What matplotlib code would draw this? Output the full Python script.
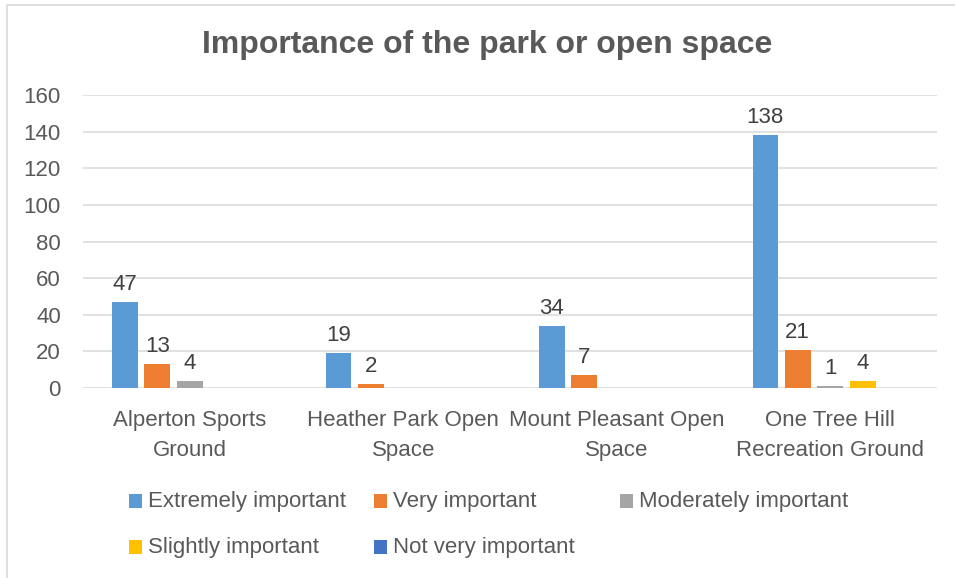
import matplotlib.pyplot as plt
from matplotlib.patches import Rectangle
import numpy as np

# Data
categories = ["Alperton Sports\nGround", "Heather Park Open\nSpace",
              "Mount Pleasant Open\nSpace", "One Tree Hill\nRecreation Ground"]
series_names = ["Extremely important", "Very important", "Moderately important",
                "Slightly important", "Not very important"]
extremely = [47, 19, 34, 138]
very = [13, 2, 7, 21]
moderately = [4, 0, 0, 1]
slightly = [0, 0, 0, 4]
not_very = [0, 0, 0, 0]
yticks = [0, 20, 40, 60, 80, 100, 120, 140, 160]

series_values = [extremely, very, moderately, slightly, not_very]
colors = ["#5b9bd5", "#ed7d31", "#a5a5a5", "#ffc000", "#4472c4"]

W, H = 955, 578
plt.rcParams['font.family'] = ['Liberation Sans', 'DejaVu Sans']

# Creating the figure
fig = plt.figure(figsize=(W / 100, H / 100), dpi=100)
ax = fig.add_axes([83 / W, 1 - 388 / H, (937 - 83) / W, (388 - 95) / H])

# Chart border
fig.add_artist(Rectangle((7 / W, -0.05), 1.1, 1 - 5 / H + 0.05, transform=fig.transFigure,
                         fill=False, edgecolor="#d9d9d9", linewidth=1.2))

# Bars
x = np.arange(len(categories))
step = 0.152
width = 0.12
for i, (name, vals) in enumerate(zip(series_names, series_values)):
    pos = x + (i - 2) * step
    ax.bar(pos, vals, width=width, color=colors[i], zorder=3, label=name)
    for px_, v in zip(pos, vals):
        if v > 0:
            ax.annotate(str(v), (px_, v), textcoords="offset points", xytext=(0, 5),
                        ha='center', va='bottom', fontsize=16, color="#404040")

# Axis
ax.set_xlim(-0.5, len(categories) - 0.5)
ax.set_ylim(0, 160)
ax.set_yticks(yticks)
ax.set_xticks(x)
ax.set_xticklabels(categories, linespacing=1.55)
ax.tick_params(axis='y', length=0, pad=16, labelsize=16, labelcolor="#595959")
ax.tick_params(axis='x', length=0, pad=16, labelsize=16, labelcolor="#595959")
ax.grid(axis='y', color="#d9d9d9", linewidth=1.1, zorder=0)
for s in ax.spines.values():
    s.set_visible(False)

# Title
fig.text(0.5 * (203 + 772) / W, 1 - 45 / H, "Importance of the park or open space",
         ha='center', va='center', fontsize=23, fontweight='bold', color="#595959")

# Legend (Excel style grid)
markers_x = [129, 374, 620, 129, 374]
rows_y = [501, 501, 501, 547, 547]
for i, name in enumerate(series_names):
    mx, my = markers_x[i], rows_y[i]
    fig.add_artist(Rectangle((mx / W, 1 - (my + 7) / H), 13 / W, 14 / H,
                             transform=fig.transFigure, color=colors[i], linewidth=0))
    fig.text((mx + 19) / W, 1 - my / H, name, ha='left', va='center',
             fontsize=16, color="#595959")

plt.savefig("out.png", dpi=100)
plt.close()
